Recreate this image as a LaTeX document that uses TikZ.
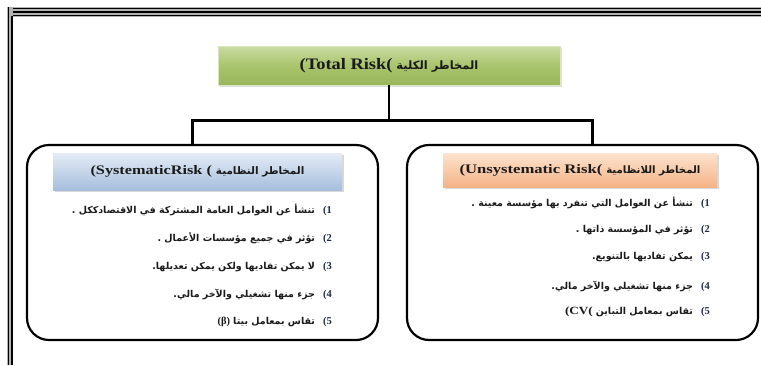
\documentclass[tikz,border=0pt]{standalone}
\usepackage{fontspec}
\setmainfont{Liberation Serif}
\newfontfamily\arabicfont[Script=Arabic]{DejaVu Sans}
\TeXXeTstate=1
\usetikzlibrary{shadows}
\definecolor{gtop}{HTML}{C9DCA2}
\definecolor{gmid}{HTML}{A9C46C}
\definecolor{gbot}{HTML}{98B65C}
\definecolor{btop}{HTML}{E4ECF6}
\definecolor{bbot}{HTML}{A6BEDD}
\definecolor{otop}{HTML}{FCE3CF}
\definecolor{obot}{HTML}{F5B386}
\definecolor{txt}{HTML}{1A1A1A}
\definecolor{numc}{HTML}{1F2A44}
\newcommand\arx[1]{{\arabicfont\bfseries\beginR #1\endR}}
\newcommand\numx[1]{{\color{numc}\bfseries\fontsize{10.5}{11}\selectfont (#1}}
\newcommand\latx[2]{\scalebox{#2}[1]{\bfseries #1}}
\tikzset{
  conn/.style={line width=2.4pt, black},
  bigbox/.style={draw=black, line width=2.2pt, rounded corners=22pt, fill=white, inner sep=0pt},
  greenbox/.style={draw=gtop!70!white, line width=0.6pt, top color=gtop, bottom color=gbot, middle color=gmid, minimum width=342pt, minimum height=39pt, inner sep=0pt, drop shadow={opacity=0.25, shadow xshift=1.5pt, shadow yshift=-1.5pt}},
  hdr/.style={inner sep=0pt, text=txt, drop shadow={opacity=0.3, shadow xshift=2pt, shadow yshift=-2pt}},
  item/.style={anchor=east, inner sep=0pt, text=txt, font=\fontsize{9.5}{11}\selectfont}
}
\begin{document}
\begin{tikzpicture}[x=1pt,y=-1pt]
\path[use as bounding box, fill=white] (0,0) rectangle (761,365);
% page frame
\fill[gray!60] (7,7) rectangle (761,17);
\draw[black, line width=1.2pt] (7,8.3) -- (761,8.3);
\draw[black, line width=1.2pt] (7,12) -- (761,12);
\draw[black, line width=1.2pt] (10,15.6) -- (761,15.6);
\fill[gray!60] (7,7) rectangle (13,365);
\draw[black, line width=1.2pt] (8.3,7) -- (8.3,365);
\draw[black, line width=1.4pt] (12,15.6) -- (12,365);
% total
\node[greenbox, text=txt] (total) at (389,65.5) {\fontsize{16}{17}\selectfont\latx{(Total Risk(}{1.15}\hspace{4pt}{\fontsize{11.5}{12}\selectfont\arx{المخاطر الكلية}}};
% big boxes
\node[bigbox, minimum width=351pt, minimum height=195pt] (sys) at (202.5,242.5) {};
\node[bigbox, minimum width=351pt, minimum height=195pt] (unsys) at (582.5,242.5) {};
% connectors
\draw[conn] (total.south) -- ++(0,35) -| ([xshift=-10pt]sys.north);
\draw[conn] (total.south) -- ++(0,35) -| ([xshift=10pt]unsys.north);
% headers
\node[hdr, top color=btop, bottom color=bbot, minimum width=289pt, minimum height=37pt] (sysh) at (197.5,171.5) {\fontsize{13}{14}\selectfont\latx{(SystematicRisk (}{1.25}\hspace{4pt}{\fontsize{10.4}{11}\selectfont\arx{المخاطر النظامية}}};
\node[hdr, top color=otop, bottom color=obot, minimum width=274pt, minimum height=34pt] (unsysh) at (580,170) {\fontsize{13}{14}\selectfont\latx{(Unsystematic Risk(}{1.28}\hspace{4pt}{\fontsize{10.2}{11}\selectfont\arx{المخاطر اللانظامية}}};
% left items
\node[item] (s1) at (332,210) {\arx{تنشأ عن العوامل العامة المشتركة في الاقتصادككل .}\hspace{8pt}\numx{1}};
\node[item] (s2) at (332,238) {\arx{تؤثر في جميع مؤسسات الأعمال .}\hspace{8pt}\numx{2}};
\node[item] (s3) at (332,267) {\arx{لا يمكن تفاديها ولكن يمكن تعديلها.}\hspace{8pt}\numx{3}};
\node[item] (s4) at (332,294) {\arx{جزء منها تشغيلي والآخر مالي.}\hspace{8pt}\numx{4}};
\node[item] (s5) at (332,322) {{\bfseries\fontsize{10.5}{11}\selectfont (β)}\hspace{3pt}\arx{تقاس بمعامل بيتا}\hspace{8pt}\numx{5}};
% right items
\node[item] (u1) at (710,203) {\arx{تنشأ عن العوامل التي تنفرد بها مؤسسة معينة .}\hspace{8pt}\numx{1}};
\node[item] (u2) at (710,230) {\arx{تؤثر في المؤسسة ذاتها .}\hspace{8pt}\numx{2}};
\node[item] (u3) at (710,257) {\arx{يمكن تفاديها بالتنويع.}\hspace{8pt}\numx{3}};
\node[item] (u4) at (710,286) {\arx{جزء منها تشغيلي والآخر مالي.}\hspace{8pt}\numx{4}};
\node[item] (u5) at (710,312) {\latx{\fontsize{11}{12}\selectfont (CV(}{1.2}\hspace{3pt}\arx{تقاس بمعامل التباين}\hspace{8pt}\numx{5}};
\end{tikzpicture}
\end{document}
